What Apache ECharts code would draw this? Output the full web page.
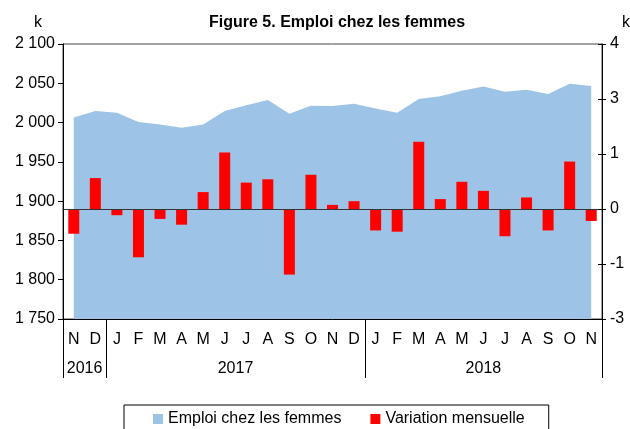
<!DOCTYPE html>
<html>
<head>
<meta charset="utf-8">
<script src="https://cdn.jsdelivr.net/npm/echarts@6/dist/echarts.min.js"></script>
<style>
  html, body { margin: 0; padding: 0; background: #fff; }
  #chart { width: 630px; height: 429px; }
</style>
</head>
<body>
<div id="chart"></div>
<script>
// mois (nov. 2016 -> nov. 2018)
const months = ["N", "D", "J", "F", "M", "A", "M", "J", "J", "A", "S", "O", "N",
  "D", "J", "F", "M", "A", "M", "J", "J", "A", "S", "O", "N"];
// emploi chez les femmes (k)
const emploi = [2006.6, 2014.6, 2012.5, 2000.6, 1997.7, 1993.4, 1997.7, 2014.6, 2021.9,
  2028.6, 2011.2, 2021.4, 2021.2, 2024.0, 2018.0, 2012.5, 2029.9, 2033.4, 2040.5,
  2046.0, 2039.2, 2041.8, 2036.3, 2049.4, 2046.5];
// variation mensuelle (k)
const variation = [-0.60, 0.75, -0.15, -1.17, -0.24, -0.38, 0.41, 1.37, 0.64, 0.72,
  -1.59, 0.83, 0.10, 0.19, -0.52, -0.55, 1.63, 0.24, 0.66, 0.44, -0.66, 0.28,
  -0.52, 1.15, -0.29];
// années et limites (en nombre de mois)
const years = ["2016", "2017", "2018"];
const yearBounds = [0, 2, 14, 25];

const yearMids = years.map((y, i) => (yearBounds[i] + yearBounds[i + 1]) / 2);
const font = "Liberation Sans, Arial, sans-serif";

let chart = echarts.init(document.getElementById("chart"));

const option = {
  animation: false,
  title: [
    {
      text: "Figure 5. Emploi chez les femmes",
      left: 204,
      top: 10,
      textStyle: { fontFamily: font, fontSize: 16, fontWeight: "bold", color: "#000" }
    },
    { text: "k", left: 29, top: 10, textStyle: { fontFamily: font, fontSize: 16, fontWeight: "normal", color: "#000" } },
    { text: "k", left: 617, top: 10, textStyle: { fontFamily: font, fontSize: 16, fontWeight: "normal", color: "#000" } }
  ],
  legend: {
    left: 124,
    top: 405,
    padding: [6, 24, 12, 29],
    itemGap: 29,
    itemWidth: 10,
    itemHeight: 10,
    icon: "rect",
    borderColor: "#000",
    borderWidth: 1,
    textStyle: { fontFamily: font, fontSize: 16, color: "#000" },
    data: ["Emploi chez les femmes", "Variation mensuelle"]
  },
  grid: {
    left: 63,
    right: 28,
    top: 44,
    height: 275,
    show: true,
    borderColor: "#444",
    borderWidth: 1
  },
  xAxis: [
    {
      // mois
      type: "category",
      data: months,
      position: "bottom",
      axisLine: { onZero: false, lineStyle: { color: "#000" } },
      axisTick: { interval: 0, length: 28, lineStyle: { color: "#000" } },
      axisLabel: { interval: 0, margin: 13, fontFamily: font, fontSize: 16, color: "#000" },
      splitLine: { show: false }
    },
    {
      // ligne du zéro
      type: "category",
      data: months,
      z: 10,
      axisLine: { onZero: true, onZeroAxisIndex: 1, lineStyle: { color: "#333" } },
      axisTick: {
        length: 4,
        interval: (i) => i === yearBounds[1] || i === yearBounds[2],
        lineStyle: { color: "#000" }
      },
      axisLabel: { show: false },
      splitLine: { show: false }
    },
    {
      // années
      type: "value",
      min: 0,
      max: 25,
      position: "bottom",
      axisLine: { show: false, onZero: false },
      axisTick: { show: true, customValues: yearBounds, length: 59, lineStyle: { color: "#000" } },
      axisLabel: {
        customValues: yearMids,
        margin: 42,
        fontFamily: font,
        fontSize: 16,
        color: "#000",
        formatter: (v) => years[yearMids.indexOf(v)]
      },
      splitLine: { show: false }
    },
    {
      // petites graduations internes
      type: "category",
      data: months,
      position: "bottom",
      z: 10,
      axisLine: { show: false, onZero: false },
      axisTick: { inside: true, interval: 0, length: 5, lineStyle: { color: "#000" } },
      axisLabel: { show: false },
      splitLine: { show: false }
    }
  ],
  yAxis: [
    {
      type: "value",
      min: 1750,
      max: 2100,
      interval: 50,
      position: "left",
      axisLine: { show: true, lineStyle: { color: "#000" } },
      axisTick: { show: true, length: 5, lineStyle: { color: "#000" } },
      axisLabel: {
        margin: 8,
        fontFamily: font,
        fontSize: 16,
        color: "#000",
        formatter: (v) => String(v).replace(/\B(?=(\d{3})+$)/g, " ")
      },
      splitLine: { show: false }
    },
    {
      type: "value",
      min: -8 / 3,
      max: 4,
      interval: 4 / 3,
      position: "right",
      axisLine: { show: true, lineStyle: { color: "#000" } },
      axisTick: { show: true, length: 4, lineStyle: { color: "#000" } },
      axisLabel: {
        margin: 8,
        fontFamily: font,
        fontSize: 16,
        color: "#000",
        formatter: (v) => String(Math.round(v) + 0)
      },
      splitLine: { show: false }
    },
    {
      type: "value",
      min: -8 / 3,
      max: 4,
      interval: 4 / 3,
      position: "right",
      z: 10,
      axisLine: { show: false },
      axisTick: { show: true, inside: true, length: 4, lineStyle: { color: "#000" } },
      axisLabel: { show: false },
      splitLine: { show: false }
    }
  ],
  series: [
    {
      name: "Emploi chez les femmes",
      type: "line",
      xAxisIndex: 0,
      yAxisIndex: 0,
      data: emploi,
      color: "#9DC3E6",
      showSymbol: false,
      symbol: "none",
      lineStyle: { width: 0 },
      areaStyle: { color: "#9DC3E6", opacity: 1, origin: "start" },
      z: 1
    },
    {
      name: "Variation mensuelle",
      type: "bar",
      xAxisIndex: 1,
      yAxisIndex: 1,
      data: variation,
      color: "#FF0000",
      barWidth: 11,
      z: 5
    }
  ]
};

chart.setOption(option);
</script>
</body>
</html>
